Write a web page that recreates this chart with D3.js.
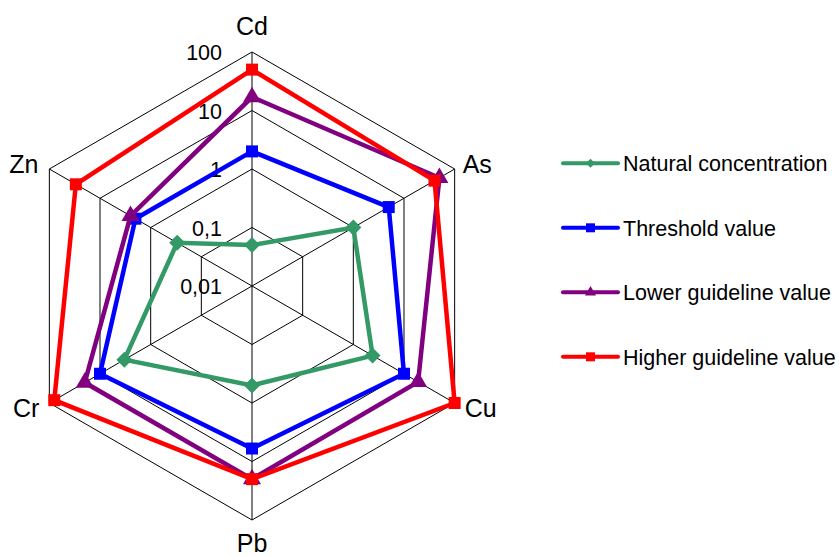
<!DOCTYPE html>
<html>
<head>
<meta charset="utf-8">
<script src="https://cdn.jsdelivr.net/npm/d3@7"></script>
<style>
  html, body { margin: 0; padding: 0; background: #fff; }
  svg { display: block; font-family: "Liberation Sans", Arial, sans-serif; }
</style>
</head>
<body>
<svg id="chart" width="839" height="556"></svg>
<script>
// ---- data ----
const categories = ["Cd", "As", "Cu", "Pb", "Cr", "Zn"];
const tickValues = [0.01, 0.1, 1, 10, 100];
const tickLabels = ["0,01", "0,1", "1", "10", "100"];
const seriesNames = ["Natural concentration", "Threshold value", "Lower guideline value", "Higher guideline value"];
const naturalValues   = [0.05, 1, 2.4, 0.5, 3.3, 0.3];
const thresholdValues = [2, 5, 10, 6, 10, 2];
const lowerValues     = [17, 50, 19, 20, 20, 2.5];
const higherValues    = [50, 40, 100, 20, 80, 30];
const seriesColors = ["#339966", "#0000FF", "#800080", "#FF0000"];
const seriesMarkers = ["diamond", "square", "triangle", "square"];

const seriesList = [naturalValues, thresholdValues, lowerValues, higherValues].map((v, i) => ({
  name: seriesNames[i], values: v, color: seriesColors[i], marker: seriesMarkers[i]
}));

// ---- layout ----
const svg = d3.select("#chart");
const cx = 252, cy = 286, R = 234;
const r = d3.scaleLog().domain([0.01, 100]).range([0, R]);
const angle = d3.scalePoint().domain(categories).range([0, 300]); // degrees clockwise from top
function pt(cat, radius) {
  const a = angle(cat) * Math.PI / 180;
  return [cx + radius * Math.sin(a), cy - radius * Math.cos(a)];
}

const g = svg.append("g");

// grid hexagons
tickValues.slice(1).forEach(t => {
  const pts = categories.map(c => pt(c, r(t)));
  g.append("path")
    .attr("d", d3.line()(pts) + "Z")
    .attr("fill", "none").attr("stroke", "#000").attr("stroke-width", 1);
});
// spokes
categories.forEach(c => {
  const p = pt(c, R);
  g.append("line")
    .attr("x1", cx).attr("y1", cy).attr("x2", p[0]).attr("y2", p[1])
    .attr("stroke", "#000").attr("stroke-width", 1);
});

// tick labels
tickValues.forEach((t, i) => {
  g.append("text")
    .attr("x", cx - 30).attr("y", cy - r(t) + 8)
    .attr("text-anchor", "end")
    .attr("font-size", 21.5)
    .text(tickLabels[i]);
});

// category labels
const labelOffsets = {
  "Cd": { dx: 0, dy: -17, anchor: "middle" },
  "As": { dx: 8, dy: 4, anchor: "start" },
  "Cu": { dx: 10, dy: 14, anchor: "start" },
  "Pb": { dx: 0, dy: 32, anchor: "middle" },
  "Cr": { dx: -10, dy: 14, anchor: "end" },
  "Zn": { dx: -11, dy: 4, anchor: "end" }
};
categories.forEach(c => {
  const p = pt(c, R);
  const o = labelOffsets[c];
  g.append("text")
    .attr("x", p[0] + o.dx).attr("y", p[1] + o.dy)
    .attr("text-anchor", o.anchor)
    .attr("font-size", 25)
    .text(c);
});

// marker path generator
function markerPath(type, s) {
  if (type === "square") return `M${-s/2},${-s/2}H${s/2}V${s/2}H${-s/2}Z`;
  if (type === "diamond") return `M0,${-s/2}L${s/2},0L0,${s/2}L${-s/2},0Z`;
  if (type === "triangle") {
    const h = s * Math.sqrt(3) / 2;
    return `M0,${-2*h/3}L${s/2},${h/3}L${-s/2},${h/3}Z`;
  }
}
const markerSize = { square: 12, diamond: 16, triangle: 18 };

// series
seriesList.forEach(s => {
  const pts = categories.map((c, i) => pt(c, r(s.values[i])));
  const sg = g.append("g");
  sg.append("path")
    .attr("d", d3.line()(pts) + "Z")
    .attr("fill", "none")
    .attr("stroke", s.color)
    .attr("stroke-width", 4.5)
    .attr("stroke-linejoin", "miter");
  sg.selectAll("path.m").data(pts).join("path")
    .attr("class", "m")
    .attr("transform", d => `translate(${d[0]},${d[1]})`)
    .attr("d", markerPath(s.marker, markerSize[s.marker]))
    .attr("fill", s.color);
});

// legend
const legendY = d3.scalePoint().domain(seriesNames).range([163.3, 356.8]);
const legend = svg.append("g");
seriesList.forEach(s => {
  const y = legendY(s.name);
  legend.append("line")
    .attr("x1", 563).attr("x2", 618).attr("y1", y).attr("y2", y)
    .attr("stroke", s.color).attr("stroke-width", 4).attr("stroke-linecap", "round");
  legend.append("path")
    .attr("transform", `translate(${590.5},${y})`)
    .attr("d", markerPath(s.marker, s.marker === "diamond" ? 9 : (s.marker === "triangle" ? 11 : 9)))
    .attr("fill", s.color);
  legend.append("text")
    .attr("x", 623).attr("y", y + 8)
    .attr("font-size", 21.5)
    .text(s.name);
});
</script>
</body>
</html>
